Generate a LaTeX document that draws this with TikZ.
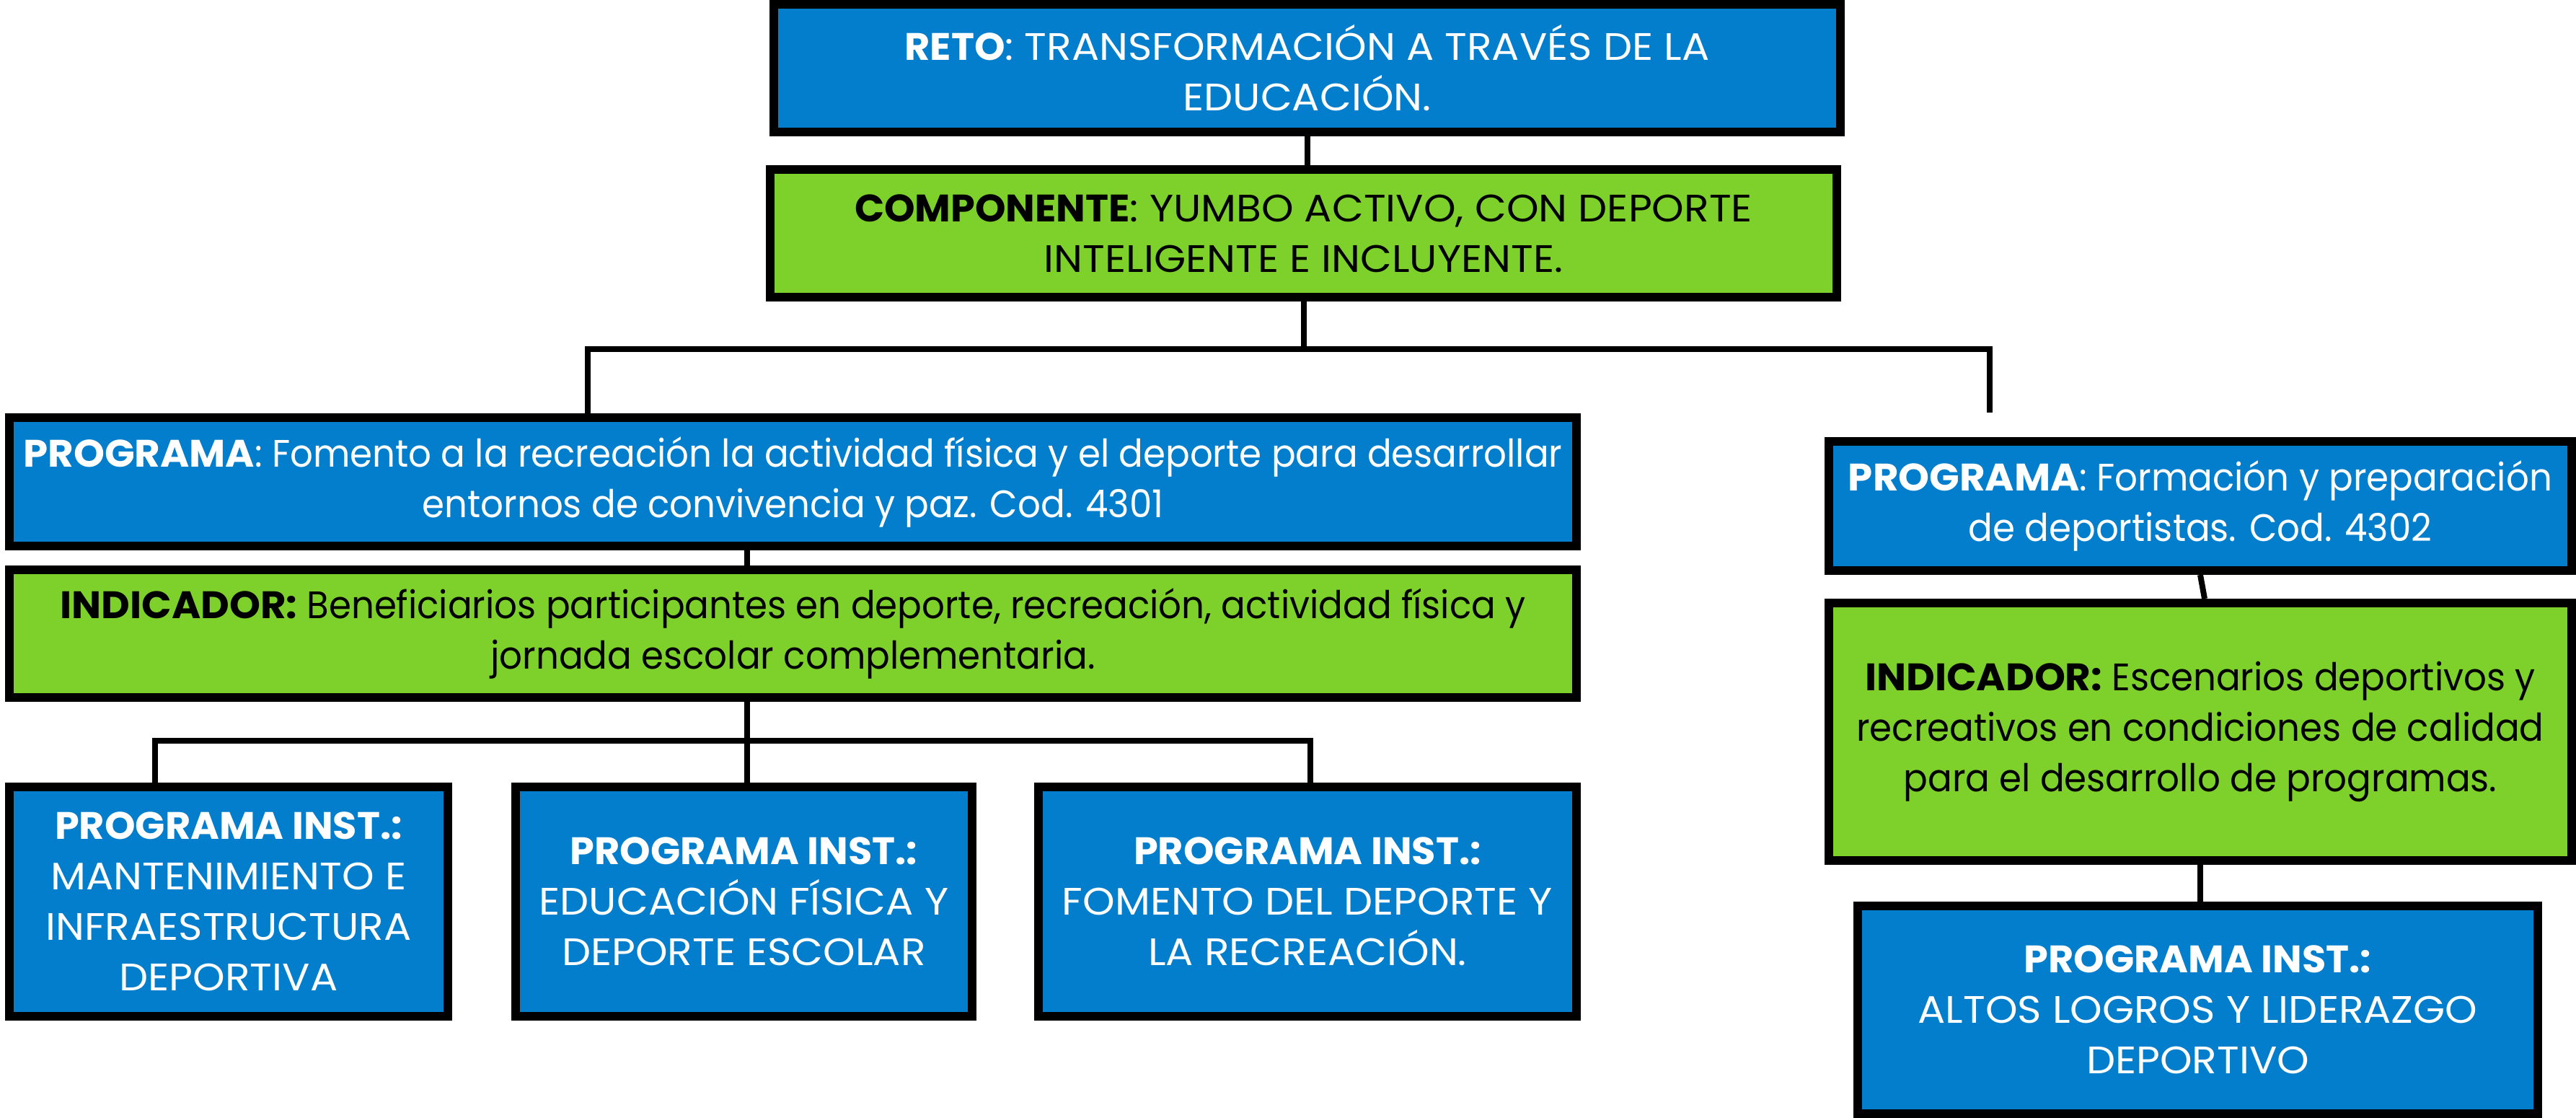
\documentclass[tikz,border=0pt]{standalone}
\usepackage{fontspec}
\setmainfont{Poppins}
\newfontfamily\capsfont[FakeStretch=1.07, BoldFeatures={FakeStretch=1.02}]{Poppins}
\newfontfamily\mixfont[FakeStretch=0.94, BoldFeatures={FakeStretch=1.03}]{Poppins}
\usetikzlibrary{calc}

\definecolor{azul}{HTML}{037ECC}
\definecolor{verde}{HTML}{7ED12A}

\begin{document}
\begin{tikzpicture}[x=1cm,y=1cm,
    caja/.style={draw=black, line width=0.12cm, align=center, inner sep=0pt,
      font=\capsfont\fontsize{15.1}{19.9}\selectfont},
    mixta/.style={font=\mixfont\fontsize{15.1}{19.9}\selectfont},
    azulbox/.style={caja, fill=azul, text=white},
    verdebox/.style={caja, fill=verde, text=black},
    conector/.style={draw=black, line width=0.08cm}]

  \useasboundingbox (0,0) rectangle (35.72,-15.50);

  % cajas superiores
  \node[azulbox, minimum width=14.79cm, minimum height=1.77cm] (reto) at (18.125,-0.945)
    {\textbf{RETO}: TRANSFORMACIÓN A TRAVÉS DE LA\\EDUCACIÓN.};
  \node[verdebox, minimum width=14.79cm, minimum height=1.77cm] (comp) at (18.075,-3.235)
    {\textbf{COMPONENTE}: YUMBO ACTIVO, CON DEPORTE\\INTELIGENTE E INCLUYENTE.};

  % rama izquierda
  \node[azulbox, mixta, minimum width=21.73cm, minimum height=1.78cm] (progA) at (10.995,-6.68)
    {\textbf{PROGRAMA}: Fomento a la recreación la actividad física y el deporte para desarrollar\\entornos de convivencia y paz. Cod. 4301};
  \node[verdebox, mixta, minimum width=21.73cm, minimum height=1.77cm] (indA) at (10.995,-8.785)
    {\textbf{INDICADOR:} Beneficiarios participantes en deporte, recreación, actividad física y\\jornada escolar complementaria.};
  \node[azulbox, minimum width=6.08cm, minimum height=3.18cm] (instA) at (3.17,-12.50)
    {\textbf{PROGRAMA INST.:}\\MANTENIMIENTO E\\INFRAESTRUCTURA\\DEPORTIVA};
  \node[azulbox, minimum width=6.33cm, minimum height=3.18cm] (instB) at (10.315,-12.50)
    {\textbf{PROGRAMA INST.:}\\EDUCACIÓN FÍSICA Y\\DEPORTE ESCOLAR};
  \node[azulbox, minimum width=7.46cm, minimum height=3.18cm] (instC) at (18.13,-12.50)
    {\textbf{PROGRAMA INST.:}\\FOMENTO DEL DEPORTE Y\\LA RECREACIÓN.};

  % rama derecha
  \node[azulbox, mixta, minimum width=10.30cm, minimum height=1.79cm] (progB) at (30.51,-7.015)
    {\textbf{PROGRAMA}: Formación y preparación\\de deportistas. Cod. 4302};
  \node[verdebox, mixta, minimum width=10.30cm, minimum height=3.57cm] (indB) at (30.51,-10.145)
    {\textbf{INDICADOR:} Escenarios deportivos y\\recreativos en condiciones de calidad\\para el desarrollo de programas.};
  \node[azulbox, minimum width=9.43cm, minimum height=2.88cm] (instD) at (30.475,-14.00)
    {\textbf{PROGRAMA INST.:}\\ALTOS LOGROS Y LIDERAZGO\\DEPORTIVO};

  % puntos de los conectores
  \coordinate (busL) at (8.15,-4.84);
  \coordinate (busR) at (27.59,-4.84);
  \coordinate (finR) at (27.59,-5.72);
  \coordinate (busA) at (10.36,-10.27);
  \coordinate (dropA) at (2.15,-10.27);
  \coordinate (dropC) at (18.17,-10.27);

  \path[conector] (reto.south) -- (reto.south |- comp.north);
  \path[conector] (comp.south) -- (comp.south |- busL);
  \path[conector] (progA.north -| busL) -- (busL) -- (busR) -- (finR);
  \path[conector] (progA.south -| busA) -- (indA.north -| busA);
  \path[conector] (indA.south -| busA) -- (busA);
  \path[conector] (instA.north -| dropA) -- (dropA) -- (dropC) -- (instC.north -| dropC);
  \path[conector] (busA) -- (instB.north -| busA);
  \path[conector] (progB.south) -- ($(indB.north)+(0.06,0)$);
  \path[conector] (indB.south) -- (instD.north -| indB.south);

\end{tikzpicture}
\end{document}
